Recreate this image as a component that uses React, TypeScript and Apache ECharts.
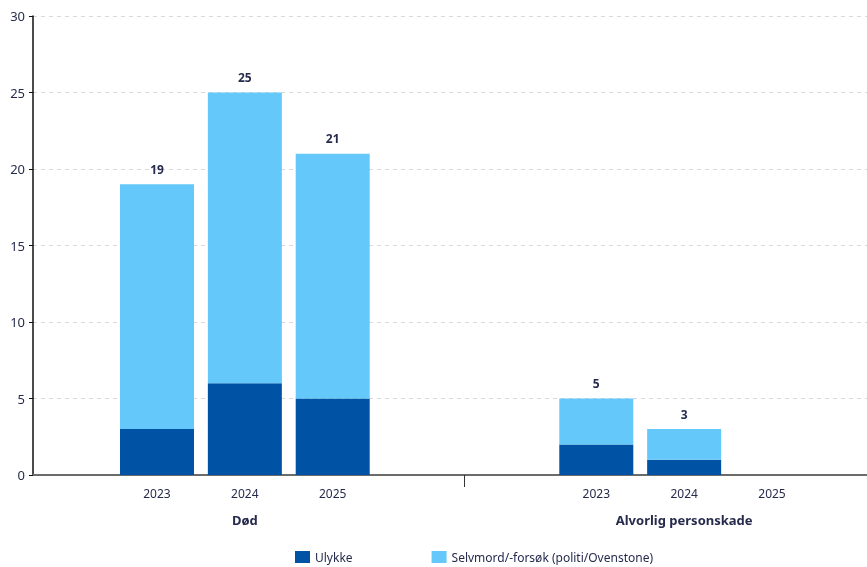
import React, { useEffect, useRef } from "react";
import * as echarts from "echarts";

const groups = ["Død", "Alvorlig personskade"];
const years = ["2023", "2024", "2025"];
const ulykkeDod = [3, 6, 5];
const selvmordDod = [16, 19, 16];
const ulykkeAlv = [2, 1, 0];
const selvmordAlv = [3, 2, 0];
const yTicks = [0, 5, 10, 15, 20, 25, 30];
const seriesNames = ["Ulykke", "Selvmord/-forsøk (politi/Ovenstone)"];

const DARK = "#0052A5";
const LIGHT = "#64C8FA";
const TEXT = "#262b4d";
const FONT = "'Noto Sans', sans-serif";

type Slot = { key: string; year: string; group: string; u: number | null; s: number | null };

function pad(slots: Slot[], n: number) {
  slots.push({ key: "pad" + n, year: "", group: "", u: null, s: null });
}

function buildSlots(): Slot[] {
  const slots: Slot[] = [];
  pad(slots, 0);
  years.forEach((y, i) =>
    slots.push({ key: groups[0] + y, year: y, group: i === 1 ? groups[0] : "", u: ulykkeDod[i], s: selvmordDod[i] })
  );
  pad(slots, 1);
  pad(slots, 2);
  years.forEach((y, i) =>
    slots.push({ key: groups[1] + y, year: y, group: i === 1 ? groups[1] : "", u: ulykkeAlv[i], s: selvmordAlv[i] })
  );
  pad(slots, 3);
  pad(slots, 4);
  return slots;
}

export default function App() {
  const ref = useRef<HTMLDivElement>(null);
  useEffect(() => {
    if (!ref.current) return;
    const chart = echarts.init(ref.current, null, { renderer: "svg" });
    const slots = buildSlots();
    const cats = slots.map((s) => s.key);
    const totals = slots.map((s) => (s.u == null ? 0 : (s.u || 0) + (s.s || 0)));
    const top = 16;
    const bottom = 92;
    const slotW = 87.86;
    chart.setOption({
      animation: false,
      textStyle: { fontFamily: FONT },
      grid: [
        { left: 33, right: 0, top, bottom, outerBoundsMode: "none", containLabel: false },
        { left: 25.2, width: slotW * slots.length, top, bottom, outerBoundsMode: "none", containLabel: false },
      ],
      legend: {
        top: 546,
        left: 290,
        itemGap: 79,
        itemWidth: 15,
        itemHeight: 12,
        icon: "rect",
        textStyle: { color: TEXT, fontSize: 12, fontFamily: FONT },
        data: seriesNames,
      },
      xAxis: [
        {
          gridIndex: 0,
          type: "value",
          min: 0,
          max: 1,
          axisLine: { show: true, lineStyle: { color: "#6b6b6b", width: 2 } },
          axisTick: { show: false },
          axisLabel: { show: false },
          splitLine: { show: false },
        },
        {
          gridIndex: 1,
          type: "category",
          data: cats,
          axisLine: { show: false },
          axisTick: {
            show: true,
            length: 12,
            interval: (i: number) => i === 5 || i === 10,
            lineStyle: { color: "#333", width: 1 },
          },
          axisLabel: {
            interval: 0,
            margin: 10,
            formatter: (_v: string, i: number) => {
              const s = slots[i];
              if (!s || !s.year) return "";
              return s.group ? `{a|${s.year}}\n{b|${s.group}}` : `{a|${s.year}}`;
            },
            rich: {
              a: { color: TEXT, fontSize: 12, lineHeight: 16, fontFamily: FONT },
              b: { color: TEXT, fontSize: 13, fontWeight: "bold", lineHeight: 38, fontFamily: FONT },
            },
          },
        },
      ],
      yAxis: [
        {
          gridIndex: 0,
          type: "value",
          min: 0,
          max: 30,
          interval: 5,
          axisLine: { show: true, lineStyle: { color: "#111", width: 1.5 } },
          axisTick: { show: true, length: 4, lineStyle: { color: "#111" } },
          axisLabel: {
            color: TEXT,
            fontSize: 13,
            margin: 8,
            fontFamily: FONT,
            formatter: (v: number) => (yTicks.includes(v) ? String(v) : ""),
          },
          splitLine: { show: true, lineStyle: { color: "#d9d9d9", type: [4, 4], width: 1 } },
        },
        { gridIndex: 1, type: "value", min: 0, max: 30, show: false },
      ],
      series: [
        {
          name: seriesNames[0],
          type: "bar",
          stack: "total",
          xAxisIndex: 1,
          yAxisIndex: 1,
          barWidth: 74,
          itemStyle: { color: DARK },
          data: slots.map((s) => s.u),
        },
        {
          name: seriesNames[1],
          type: "bar",
          stack: "total",
          xAxisIndex: 1,
          yAxisIndex: 1,
          barWidth: 74,
          itemStyle: { color: LIGHT },
          data: slots.map((s) => s.s),
          label: {
            show: true,
            position: "top",
            distance: 9,
            color: TEXT,
            fontSize: 12,
            fontWeight: "bold",
            fontFamily: FONT,
            formatter: (p: any) => (totals[p.dataIndex] ? String(totals[p.dataIndex]) : ""),
          },
        },
      ],
    });
    return () => chart.dispose();
  }, []);
  return <div ref={ref} style={{ position: "fixed", left: 0, top: 0, width: 867, height: 567 }} />;
}
